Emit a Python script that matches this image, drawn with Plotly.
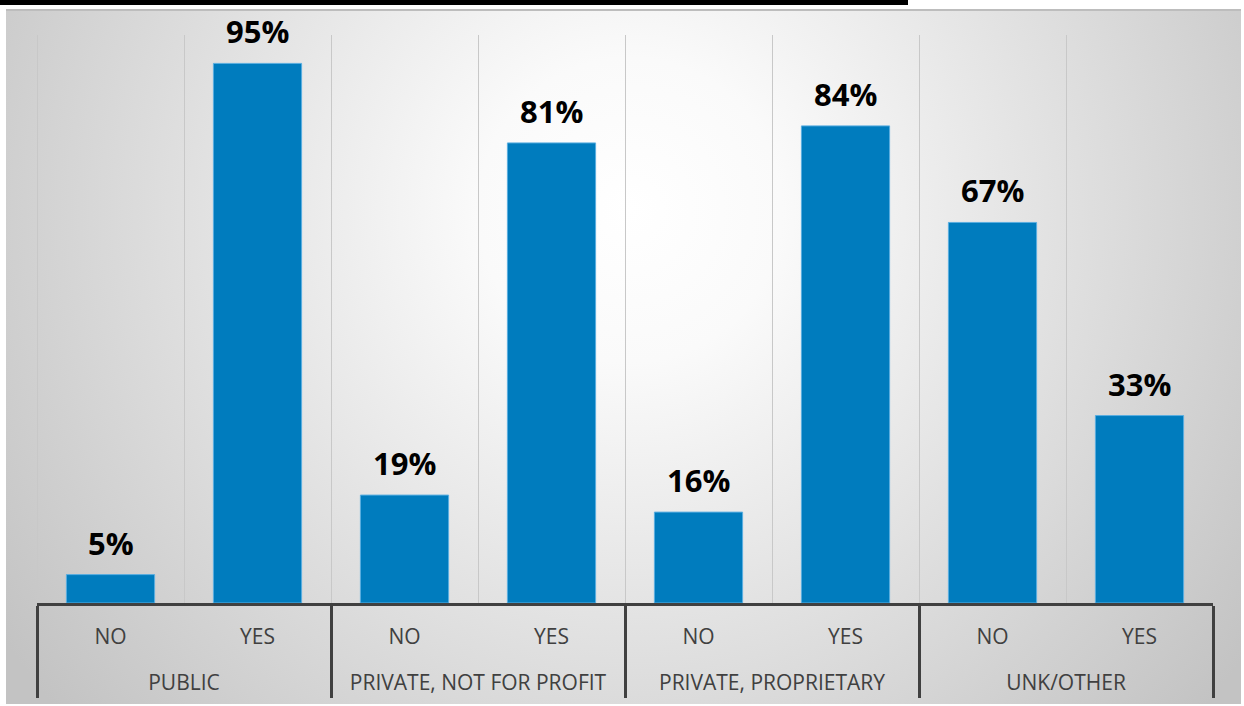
import base64
import plotly.graph_objects as go

groups = ["PUBLIC", "PUBLIC",
          "PRIVATE, NOT FOR PROFIT", "PRIVATE, NOT FOR PROFIT",
          "PRIVATE, PROPRIETARY", "PRIVATE, PROPRIETARY",
          "UNK/OTHER", "UNK/OTHER"]
answers = ["NO", "YES", "NO", "YES", "NO", "YES", "NO", "YES"]
values = [5, 95, 19, 81, 16, 84, 67, 33]

W, H = 1244, 706
ML, MR, MT, MB = 37, 31, 35, 103
PW, PH = W - ML - MR, H - MT - MB

svg = f"""<svg xmlns='http://www.w3.org/2000/svg' width='{W}' height='{H}' viewBox='0 0 {W} {H}'>
<defs><radialGradient id='g' gradientUnits='userSpaceOnUse' cx='630' cy='210' r='760'>
<stop offset='0' stop-color='#ffffff'/><stop offset='0.2' stop-color='#fafafa'/>
<stop offset='1' stop-color='#c3c3c3'/></radialGradient></defs>
<rect x='0' y='0' width='{W}' height='{H}' fill='#ffffff'/>
<rect x='6' y='9' width='1235' height='695' fill='url(#g)'/>
<rect x='6' y='9' width='1235' height='2' fill='#bdbdbd'/>
<rect x='0' y='0' width='908' height='5' fill='#000000'/>
<rect x='37' y='35' width='1' height='568' fill='#c8c8c8'/>
</svg>"""
src = "data:image/svg+xml;base64," + base64.b64encode(svg.encode()).decode()

pad = "<br><span style='font-size:28px'> </span>"
x_sub = [a + pad for a in answers]

fig = go.Figure()
fig.add_trace(go.Bar(
    x=[groups, x_sub], y=values,
    marker=dict(color="#007CBE", line=dict(color="#5aaee0", width=1)),
    width=0.6, hoverinfo="skip",
))

for i, v in enumerate(values):
    fig.add_annotation(x=i, y=v, text=f"{v}%", showarrow=False,
                       yanchor="bottom", yshift=9,
                       font=dict(family="Open Sans", size=31, color="#000000", weight="bold"))

fig.update_layout(
    width=W, height=H,
    margin=dict(l=ML, r=MR, t=MT, b=MB),
    paper_bgcolor="#ffffff",
    plot_bgcolor="rgba(0,0,0,0)",
    showlegend=False,
    images=[dict(source=src, xref="paper", yref="paper",
                 x=-ML / PW, y=1 + MT / PH, sizex=W / PW, sizey=H / PH,
                 xanchor="left", yanchor="top", sizing="stretch", layer="below")],
    xaxis=dict(
        type="multicategory",
        tickson="boundaries",
        showgrid=True, gridcolor="#c8c8c8", gridwidth=1,
        showline=True, linecolor="#404040", linewidth=3,
        showdividers=True, dividercolor="#404040", dividerwidth=3,
        ticks="", ticklabelstandoff=13,
        tickfont=dict(family="Open Sans", size=21, color="#404040"),
        range=[-0.5, 7.5], fixedrange=True,
    ),
    yaxis=dict(range=[0, 100], visible=False, showgrid=False, fixedrange=True),
)

fig.write_html("out.html")
